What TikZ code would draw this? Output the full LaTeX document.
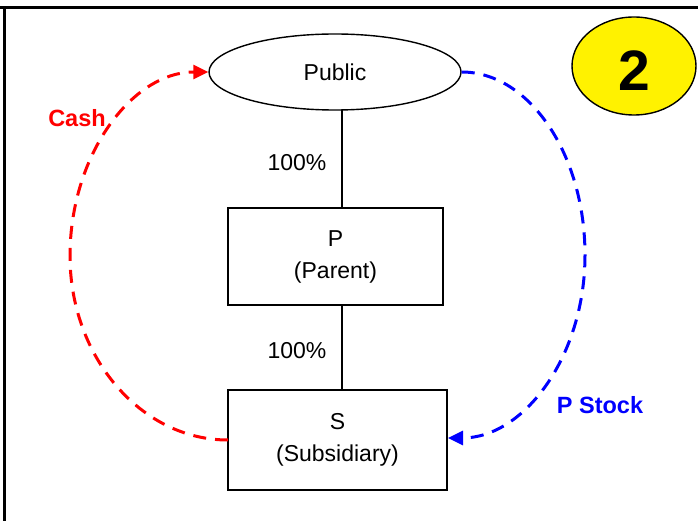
\documentclass[tikz,border=0pt]{standalone}
\usepackage{fontspec}
\setmainfont{Liberation Sans}
\usetikzlibrary{shapes.geometric,arrows.meta}
\begin{document}
\begin{tikzpicture}[x=1pt,y=-1pt,
  entity/.style={draw,line width=1.4pt,rectangle,minimum width=#1,align=center,font=\fontsize{23}{32}\selectfont},
  pct/.style={font=\fontsize{23}{28}\selectfont},
  flow/.style={line width=3pt,dash pattern=on 13pt off 9pt,-{Triangle[length=15pt,width=14pt]}},
  lbl/.style={font=\fontsize{23.5}{28}\selectfont\bfseries}]
\useasboundingbox (0,0) rectangle (698,521);
\draw[line width=3pt] (0,8) -- (698,8);
\draw[line width=3pt] (4,8) -- (4,521);
\node[ellipse,draw,line width=1.4pt,minimum width=252pt,minimum height=76pt,inner sep=0pt,font=\fontsize{23}{28}\selectfont] (pub) at (335,72) {Public};
\node[ellipse,draw,line width=1.4pt,fill=yellow,minimum width=124pt,minimum height=98pt,inner sep=0pt,text height=49.5pt,text depth=0pt,font=\fontsize{57}{60}\selectfont\bfseries] (num) at (634,66) {2};
\node[entity=215pt,minimum height=97pt] (p) at (335.5,256.5) {P\\(Parent)};
\node[entity=219pt,minimum height=100pt] (s) at (337.5,440) {S\\(Subsidiary)};
\draw[line width=1.4pt] (342,110) -- (342,208);
\draw[line width=1.4pt] (342,305) -- (342,390);
\node[pct] (pa) at (297,163) {100\%};
\node[pct] (pb) at (297,351) {100\%};
\coordinate (sw) at (228,440);
\coordinate (se) at (448,438);
\coordinate (lm) at (70,256);
\coordinate (rm) at (585,255);
\draw[flow,red] (sw) .. controls (141,440) and (70,357) .. (lm)
  .. controls (70,155) and (132,72) .. (pub.west);
\draw[flow,blue] (pub.east) .. controls (529,72) and (585,154) .. (rm)
  .. controls (585,356) and (524,438) .. (se);
\node[lbl,red] (cash) at (77,118) {Cash};
\node[lbl,blue] (ps) at (600,405) {P Stock};
\end{tikzpicture}
\end{document}
